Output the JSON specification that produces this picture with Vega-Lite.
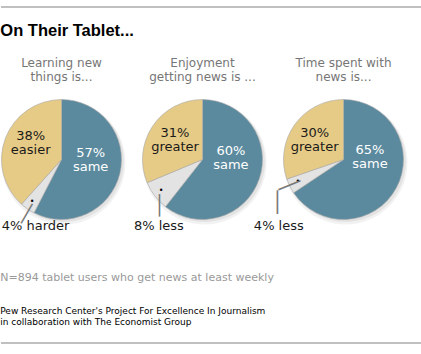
{
  "$schema": "https://vega.github.io/schema/vega-lite/v6.json",
  "background": "white",
  "padding": {"left": 0, "top": 6, "right": 0, "bottom": 0},
  "spacing": 14,
  "config": {
    "view": {"stroke": null},
    "font": "DejaVu Sans",
    "title": {"font": "DejaVu Sans", "fontSize": 12, "fontWeight": "normal", "color": "#767676", "lineHeight": 14, "anchor": "middle", "offset": 14},
    "text": {"font": "DejaVu Sans", "fontSize": 13, "lineBreak": "\n", "lineHeight": 14}
  },
  "vconcat": [
    {
      "width": 420,
      "height": 1,
      "data": {"values": [{}]},
      "mark": {"type": "rule", "stroke": "#ababab", "strokeWidth": 1.5},
      "encoding": {"y": {"value": 0}}
    },
    {
      "spacing": 36,
      "vconcat": [
        {
          "title": {"text": "On Their Tablet...", "anchor": "start", "font": "Liberation Sans", "fontSize": 16.5, "fontWeight": "bold", "color": "#000000", "offset": 18},
          "spacing": 20,
          "bounds": "flush",
          "hconcat": [
            {
              "width": 121,
              "height": 121,
              "title": {"text": ["Learning new", "things is..."]},
              "data": {"values": [
                {"answer": "same", "kind": "same", "rank": 1, "pct": 57, "label": "57%\nsame"},
                {"answer": "harder", "kind": "small", "rank": 2, "pct": 4, "label": "4% harder"},
                {"answer": "easier", "kind": "big", "rank": 3, "pct": 38, "label": "38%\neasier"}
              ]},
              "encoding": {
                "theta": {"field": "pct", "type": "quantitative", "stack": true},
                "order": {"field": "rank", "type": "quantitative"}
              },
              "layer": [
                {"mark": {"type": "arc", "radius": 62, "color": "#000000", "opacity": 0.05, "xOffset": 2, "yOffset": 3}},
                {"mark": {"type": "arc", "radius": 60.5, "color": "#000000", "opacity": 0.06, "xOffset": 2, "yOffset": 2}},
                {"mark": {"type": "arc", "radius": 60, "stroke": "#a8a8a8", "strokeWidth": 0.6},
                 "encoding": {"color": {"field": "kind", "type": "nominal", "scale": {"domain": ["same", "small", "big"], "range": ["#5b8a9e", "#e3e3e3", "#e6cb86"]}, "legend": null}}},
                {"mark": {"type": "text", "radius": 30, "dy": -14, "color": "white"},
                 "encoding": {"text": {"condition": {"test": "datum.kind === 'same'", "field": "label"}, "value": ""}}},
                {"mark": {"type": "text", "radius": 33, "dy": -12, "color": "#1a1a1a"},
                 "encoding": {"text": {"condition": {"test": "datum.kind === 'big'", "field": "label"}, "value": ""}}},
                {"mark": {"type": "text", "radius": 80, "dx": 19.5, "dy": 1, "color": "#1a1a1a"},
                 "encoding": {"text": {"condition": {"test": "datum.kind === 'small'", "field": "label"}, "value": ""}}},
                {"mark": {"type": "text", "radius": 52, "fontSize": 8, "color": "#000000"},
                 "encoding": {"text": {"condition": {"test": "datum.kind === 'small'", "value": "•"}, "value": ""}}},
                {"mark": {"type": "text", "radius": 63, "dx": 2, "dy": 2, "fontSize": 19, "color": "#7a7a7a"},
                 "encoding": {
                   "text": {"condition": {"test": "datum.kind === 'small'", "value": "│"}, "value": ""},
                   "angle": {"condition": {"test": "datum.kind === 'small'", "value": 30}, "value": 0}
                 }}
              ]
            },
            {
              "width": 121,
              "height": 121,
              "title": {"text": ["Enjoyment", "getting news is ..."]},
              "data": {"values": [
                {"answer": "same", "kind": "same", "rank": 1, "pct": 60, "label": "60%\nsame"},
                {"answer": "less", "kind": "small", "rank": 2, "pct": 8, "label": "8% less"},
                {"answer": "greater", "kind": "big", "rank": 3, "pct": 31, "label": "31%\ngreater"}
              ]},
              "encoding": {
                "theta": {"field": "pct", "type": "quantitative", "stack": true},
                "order": {"field": "rank", "type": "quantitative"}
              },
              "layer": [
                {"mark": {"type": "arc", "radius": 62, "color": "#000000", "opacity": 0.05, "xOffset": 2, "yOffset": 3}},
                {"mark": {"type": "arc", "radius": 60.5, "color": "#000000", "opacity": 0.06, "xOffset": 2, "yOffset": 2}},
                {"mark": {"type": "arc", "radius": 60, "stroke": "#a8a8a8", "strokeWidth": 0.6},
                 "encoding": {"color": {"field": "kind", "type": "nominal", "scale": {"domain": ["same", "small", "big"], "range": ["#5b8a9e", "#e3e3e3", "#e6cb86"]}, "legend": null}}},
                {"mark": {"type": "text", "radius": 30, "dy": -18, "color": "white"},
                 "encoding": {"text": {"condition": {"test": "datum.kind === 'same'", "field": "label"}, "value": ""}}},
                {"mark": {"type": "text", "radius": 33, "dy": -8, "color": "#1a1a1a"},
                 "encoding": {"text": {"condition": {"test": "datum.kind === 'big'", "field": "label"}, "value": ""}}},
                {"mark": {"type": "text", "radius": 80, "dx": 20, "dy": 18, "color": "#1a1a1a"},
                 "encoding": {"text": {"condition": {"test": "datum.kind === 'small'", "field": "label"}, "value": ""}}},
                {"mark": {"type": "text", "radius": 52, "fontSize": 8, "color": "#000000"},
                 "encoding": {"text": {"condition": {"test": "datum.kind === 'small'", "value": "•"}, "value": ""}}},
                {"mark": {"type": "text", "radius": 58, "dx": 3, "dy": 11, "fontSize": 19, "color": "#7a7a7a"},
                 "encoding": {"text": {"condition": {"test": "datum.kind === 'small'", "value": "│"}, "value": ""}}}
              ]
            },
            {
              "width": 121,
              "height": 121,
              "title": {"text": ["Time spent with", "news is..."]},
              "data": {"values": [
                {"answer": "same", "kind": "same", "rank": 1, "pct": 65, "label": "65%\nsame"},
                {"answer": "less", "kind": "small", "rank": 2, "pct": 4, "label": "4% less"},
                {"answer": "greater", "kind": "big", "rank": 3, "pct": 30, "label": "30%\ngreater"}
              ]},
              "encoding": {
                "theta": {"field": "pct", "type": "quantitative", "stack": true},
                "order": {"field": "rank", "type": "quantitative"}
              },
              "layer": [
                {"mark": {"type": "arc", "radius": 62, "color": "#000000", "opacity": 0.05, "xOffset": 2, "yOffset": 3}},
                {"mark": {"type": "arc", "radius": 60.5, "color": "#000000", "opacity": 0.06, "xOffset": 2, "yOffset": 2}},
                {"mark": {"type": "arc", "radius": 60, "stroke": "#a8a8a8", "strokeWidth": 0.6},
                 "encoding": {"color": {"field": "kind", "type": "nominal", "scale": {"domain": ["same", "small", "big"], "range": ["#5b8a9e", "#e3e3e3", "#e6cb86"]}, "legend": null}}},
                {"mark": {"type": "text", "radius": 30, "dy": -24, "color": "white"},
                 "encoding": {"text": {"condition": {"test": "datum.kind === 'same'", "field": "label"}, "value": ""}}},
                {"mark": {"type": "text", "radius": 33, "dx": -2, "dy": -7, "color": "#1a1a1a"},
                 "encoding": {"text": {"condition": {"test": "datum.kind === 'big'", "field": "label"}, "value": ""}}},
                {"mark": {"type": "text", "radius": 80, "dx": 7, "dy": 31, "color": "#1a1a1a"},
                 "encoding": {"text": {"condition": {"test": "datum.kind === 'small'", "field": "label"}, "value": ""}}},
                {"mark": {"type": "text", "radius": 51, "fontSize": 8, "color": "#000000"},
                 "encoding": {"text": {"condition": {"test": "datum.kind === 'small'", "value": "•"}, "value": ""}}},
                {"mark": {"type": "text", "radius": 61, "dx": -1, "dy": 0, "fontSize": 20, "color": "#7a7a7a"},
                 "encoding": {
                   "text": {"condition": {"test": "datum.kind === 'small'", "value": "│"}, "value": ""},
                   "angle": {"condition": {"test": "datum.kind === 'small'", "value": 68}, "value": 0}
                 }},
                {"mark": {"type": "text", "radius": 74, "dx": 0, "dy": 11, "fontSize": 20, "color": "#7a7a7a"},
                 "encoding": {"text": {"condition": {"test": "datum.kind === 'small'", "value": "│"}, "value": ""}}}
              ]
            }
          ]
        },
        {
          "width": 420,
          "height": 10,
          "title": {
            "text": "N=894 tablet users who get news at least weekly",
            "subtitle": ["Pew Research Center's Project For Excellence In Journalism", "in collaboration with The Economist Group"],
            "anchor": "start",
            "fontSize": 11,
            "color": "#999999",
            "subtitleFont": "DejaVu Sans",
            "subtitleFontSize": 9,
            "subtitleColor": "#000000",
            "subtitlePadding": 24,
            "subtitleLineHeight": 11,
            "offset": 6
          },
          "data": {"values": [{}]},
          "mark": {"type": "rule", "stroke": "#ababab", "strokeWidth": 1.5},
          "encoding": {"y": {"value": 10}}
        }
      ]
    }
  ]
}
